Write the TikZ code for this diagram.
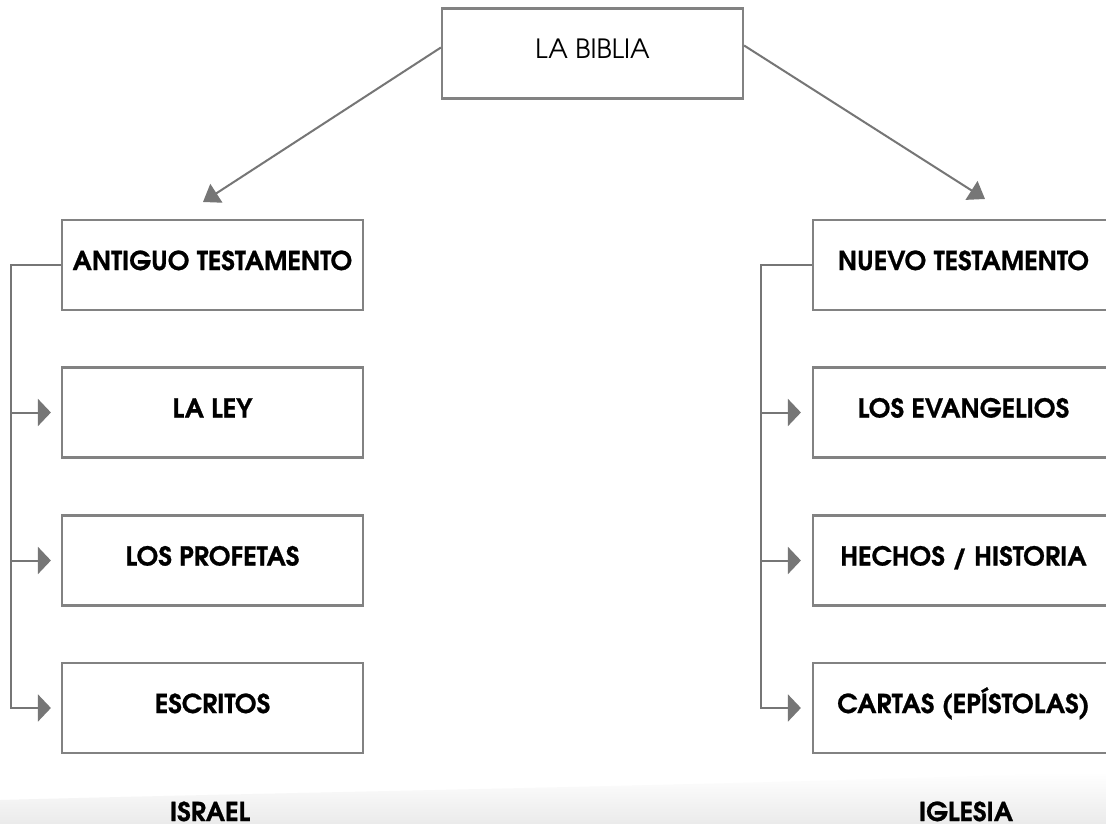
\documentclass[tikz,border=0pt]{standalone}
\usepackage{fontspec}
\setmainfont{texgyreadventor}[Extension=.otf, UprightFont=*-regular, BoldFont=*-bold, BoldFeatures={FakeBold=0.8}]
\usetikzlibrary{arrows.meta,calc}
\definecolor{linegray}{RGB}{118,118,118}
\definecolor{boxgray}{RGB}{130,130,130}
\begin{document}
\begin{tikzpicture}[x=1pt,y=-1pt,
  box/.style={draw=boxgray, line width=2.2pt, minimum width=301pt, minimum height=90pt,
    inner sep=0pt, font=\bfseries\fontsize{26}{26}\selectfont, text height=19pt, text depth=9pt},
  conn/.style={draw=linegray, line width=2pt, -{Triangle[length=13pt,width=27pt]}},
  diag/.style={draw=linegray, line width=2pt, -{Triangle[length=16pt,width=22pt]}},
  lbl/.style={font=\bfseries\fontsize{26}{26}\selectfont, anchor=base}]
\clip (0,0) rectangle (1106,824);
\fill[white] (0,0) rectangle (1106,824);
% faint bottom band
\shade[top color=white, bottom color=black!8]
  (0,800) .. controls (300,792) and (700,786) .. (1106,772) -- (1106,824) -- (0,824) -- cycle;

\node[box, font=\fontsize{26.5}{26.5}\selectfont, text depth=8pt] (bib) at (592.5,53.5) {LA BIBLIA};

\node[box] (at)   at (212.5,265)   {ANTIGUO TESTAMENTO};
\node[box] (ley)  at (212.5,412.5) {LA LEY};
\node[box] (prof) at (212.5,560.5) {LOS PROFETAS};
\node[box] (esc)  at (212.5,708)   {ESCRITOS};

\node[box] (nt)   at (963.5,265)   {NUEVO TESTAMENTO};
\node[box] (evan) at (963.5,412.5) {LOS EVANGELIOS};
\node[box] (hech) at (963.5,560.5) {HECHOS / HISTORIA};
\node[box] (cart) at (963.5,708)   {CARTAS (EPÍSTOLAS)};

\node[lbl] (isr) at (210,821) {ISRAEL};
\node[lbl] (igl) at (966,821) {IGLESIA};

\coordinate (ltip) at (203,202);
\coordinate (rtip) at (985,199);
\coordinate (lx) at (11,0);
\coordinate (rx) at (761,0);

\draw[diag] ([yshift=6pt]bib.west) -- (ltip);
\draw[diag] ([yshift=8pt]bib.east) -- (rtip);

\draw[conn, shorten >=10pt] (at.west) -- (at.west -| lx) -- (esc.west -| lx) -- (esc.west);
\draw[conn, shorten >=10pt] (ley.west -| lx) -- (ley.west);
\draw[conn, shorten >=10pt] (prof.west -| lx) -- (prof.west);

\draw[conn, shorten >=11pt] (nt.west) -- (nt.west -| rx) -- (cart.west -| rx) -- (cart.west);
\draw[conn, shorten >=11pt] (evan.west -| rx) -- (evan.west);
\draw[conn, shorten >=11pt] (hech.west -| rx) -- (hech.west);
\end{tikzpicture}
\end{document}
